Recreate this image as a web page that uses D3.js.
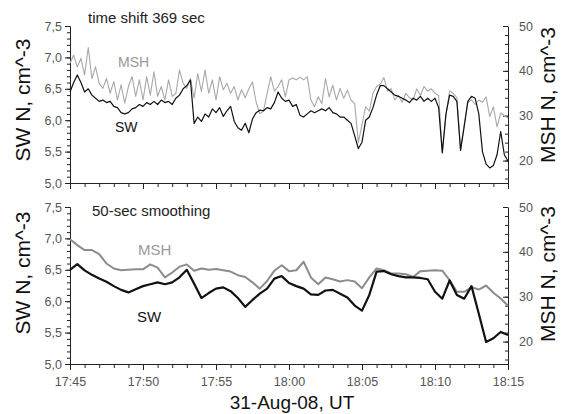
<!DOCTYPE html>
<html>
<head>
<meta charset="utf-8">
<script src="https://cdn.jsdelivr.net/npm/d3@7"></script>
<style>
body { margin:0; background:#fff; }
svg { display:block; font-family: Arial, "Liberation Sans", sans-serif; }
</style>
</head>
<body>
<div class="chart"></div>
<script>
// ---- data ----
const startTime = "2008-08-31T17:45:00Z";
const rawStepSec = 15;
const smoothStepSec = 30;

// top panel: raw data, time shift 369 sec
const swRaw = [
 6.45,6.60,6.72,6.60,6.45,6.50,6.40,6.35,6.30,6.32,6.28,6.30,6.22,6.20,6.12,6.10,
 6.12,6.18,6.20,6.25,6.22,6.28,6.25,6.30,6.25,6.32,6.28,6.30,6.25,6.35,6.40,6.50,
 6.55,6.64,5.95,6.05,5.98,6.10,6.05,6.18,6.12,6.20,6.06,6.15,6.22,5.98,5.88,5.84,
 5.95,5.80,6.02,6.12,6.16,6.15,6.20,6.18,6.28,6.45,6.35,6.30,6.32,6.22,6.25,6.08,
 6.05,6.10,6.15,6.12,6.15,6.18,6.15,6.20,6.12,6.10,6.05,6.05,6.00,5.95,5.75,5.55,
 5.65,6.00,6.05,6.20,6.40,6.55,6.55,6.50,6.45,6.40,6.38,6.35,6.32,6.28,6.35,6.32,
 6.38,6.30,6.35,6.30,6.35,6.20,5.48,6.10,6.40,6.38,6.30,5.52,5.90,6.30,6.38,6.35,
 6.10,5.50,5.30,5.24,5.28,5.45,5.82,5.45,5.35
];
const mshRaw = [
 41.7,43.5,40.9,42.8,39.1,45.2,38.3,40.9,37.2,36.1,38.3,35.0,37.6,33.5,36.9,32.8,
 36.5,38.7,34.3,38.0,33.5,38.7,34.6,39.8,34.3,36.5,33.5,38.0,34.3,35.0,40.2,37.2,
 36.1,38.3,33.9,39.4,35.4,40.2,35.0,38.0,33.5,38.7,35.8,37.2,35.0,36.5,33.5,35.8,
 34.0,36.0,37.5,33.0,30.5,31.0,35.0,38.7,35.5,36.5,38.0,34.2,38.0,38.4,38.0,38.6,
 38.0,38.7,33.5,32.0,34.2,32.7,38.3,34.2,36.8,33.5,36.1,33.9,35.7,33.5,32.7,24.0,
 28.0,32.0,31.0,35.0,36.5,37.0,38.5,35.5,36.0,33.5,34.5,33.0,35.0,34.0,33.5,36.0,
 34.5,36.5,35.5,36.0,35.0,34.5,22.0,30.0,35.5,35.0,34.0,22.5,28.0,33.0,33.5,32.5,
 33.5,33.0,34.2,29.8,32.0,27.5,30.6,30.0,29.5
];

// bottom panel: 50-sec smoothing
const swSmooth = [
 6.50,6.59,6.49,6.42,6.36,6.31,6.24,6.18,6.14,6.19,6.24,6.27,6.30,6.27,6.30,6.38,
 6.50,6.28,6.05,6.13,6.20,6.22,6.16,6.05,5.91,6.02,6.12,6.20,6.36,6.40,6.29,6.24,
 6.20,6.11,6.10,6.17,6.18,6.12,6.06,5.93,5.85,6.10,6.47,6.48,6.43,6.40,6.38,6.38,
 6.37,6.35,6.15,6.04,6.33,6.10,6.04,6.24,5.80,5.35,5.41,5.51,5.46
];
const mshSmooth = [
 42.8,41.5,40.4,40.4,39.5,37.4,36.3,35.9,36.0,36.1,36.1,37.2,36.5,34.3,35.4,36.7,
 37.2,35.8,36.3,36.0,36.2,35.9,35.6,34.8,34.4,33.2,31.8,33.5,35.8,37.0,35.7,35.9,
 37.8,34.3,32.8,34.3,33.9,33.4,33.7,33.4,31.9,34.3,36.3,35.9,35.2,35.2,35.0,34.4,
 35.7,35.8,35.9,35.8,33.7,31.1,31.1,32.1,31.6,32.5,30.9,29.6,28.0
];

const xTickLabels = ["17:45","17:50","17:55","18:00","18:05","18:10","18:15"];
const swTicks = [5.0,5.5,6.0,6.5,7.0,7.5];
const mshTicks = [20,30,40,50];
const panelTitles = ["time shift 369 sec","50-sec smoothing"];

// ---- chart ----
const W = 561, H = 414;
const left = 70, right = 508, panelH = 157;

const svg = d3.select('.chart').append('svg')
  .attr('width',W).attr('height',H);

const t0 = new Date(startTime);
const addSec = s => new Date(t0.getTime() + s*1000);
const xTicks = xTickLabels.map(l => new Date(`2008-08-31T${l}:00Z`));

const x = d3.scaleUtc()
  .domain([xTicks[0], xTicks[xTicks.length-1]])
  .range([left,right]);

const fmtComma = d => d.toFixed(1).replace('.',',');

function drawPanel({top,sw,msh,stepSec,title,showXLabels,swW,mshW,mshColor,annot})
{
  const ySW = d3.scaleLinear().domain([5,7.5]).range([top+panelH,top]);
  const yMSH = d3.scaleLinear().domain([15,50]).range([top+panelH,top]);

  const g = svg.append('g');

  // minor ticks
  g.append('g')
   .attr('transform',`translate(${left},0)`)
   .call(d3.axisLeft(ySW).tickValues(d3.range(5,7.501,0.1)).tickSize(3).tickFormat(''))
   .call(a => a.select('.domain').remove());
  g.append('g')
   .attr('transform',`translate(${right},0)`)
   .call(d3.axisRight(yMSH).tickValues(d3.range(16,50.1,2)).tickSizeInner(-3).tickSizeOuter(0).tickFormat(''))
   .call(a => a.select('.domain').remove());
  g.append('g')
   .attr('transform',`translate(0,${top+panelH})`)
   .call(d3.axisBottom(x).tickValues(d3.range(0,31).map(m => addSec(m*60))).tickSize(4).tickFormat(''))
   .call(a => a.select('.domain').remove());

  // major axes
  g.append('g')
   .attr('class','ax')
   .attr('transform',`translate(${left},0)`)
   .call(d3.axisLeft(ySW).tickValues(swTicks).tickSize(5).tickPadding(3).tickFormat(fmtComma));
  g.append('g')
   .attr('class','ax')
   .attr('transform',`translate(${right},0)`)
   .call(d3.axisRight(yMSH).tickValues(mshTicks).tickSizeInner(-5).tickSizeOuter(0).tickPadding(11));
  g.append('g')
   .attr('class','ax')
   .attr('transform',`translate(0,${top+panelH})`)
   .call(d3.axisBottom(x).tickValues(xTicks).tickSize(6).tickSizeOuter(0).tickPadding(7)
     .tickFormat((d,i) => showXLabels ? xTickLabels[i] : ''));

  g.selectAll('.domain, .tick line').attr('stroke','#222');
  g.selectAll('.ax .tick text').attr('font-size',12.5).attr('fill','#555')
   .attr('font-family','Arial, "Liberation Sans", sans-serif');

  // lines
  const lineMSH = d3.line().x((d,i) => x(addSec(i*stepSec))).y(d => yMSH(d));
  const lineSW = d3.line().x((d,i) => x(addSec(i*stepSec))).y(d => ySW(d));

  g.append('path').datum(msh)
   .attr('d',lineMSH).attr('fill','none')
   .attr('stroke',mshColor).attr('stroke-width',mshW).attr('stroke-linejoin','round');
  g.append('path').datum(sw)
   .attr('d',lineSW).attr('fill','none')
   .attr('stroke','#111').attr('stroke-width',swW).attr('stroke-linejoin','round');

  // texts
  g.append('text').attr('x',annot.titleX).attr('y',annot.titleY)
   .attr('font-size',15).attr('fill','#222').text(title);
  g.append('text').attr('x',annot.mshX).attr('y',annot.mshY)
   .attr('font-size',annot.size).attr('fill','#999').text('MSH');
  g.append('text').attr('x',annot.swX).attr('y',annot.swY)
   .attr('font-size',annot.size).attr('fill','#111').text('SW');

  g.append('text')
   .attr('transform',`translate(30,${annot.leftTitleY}) rotate(-90)`)
   .attr('text-anchor','middle').attr('font-size',21).attr('fill','#111')
   .text('SW N, cm^-3');
  g.append('text')
   .attr('transform',`translate(555,${annot.rightTitleY}) rotate(-90)`)
   .attr('text-anchor','middle').attr('font-size',21).attr('fill','#111')
   .text('MSH N, cm^-3');
}

drawPanel({
  top:26, sw:swRaw, msh:mshRaw, stepSec:rawStepSec, title:panelTitles[0],
  showXLabels:false, swW:1.2, mshW:1.1, mshColor:'#a8a8a8',
  annot:{titleX:88,titleY:23,mshX:118,mshY:67,swX:115,swY:132,size:14,leftTitleY:100,rightTitleY:95}
});
drawPanel({
  top:207, sw:swSmooth, msh:mshSmooth, stepSec:smoothStepSec, title:panelTitles[1],
  showXLabels:true, swW:2.2, mshW:2, mshColor:'#8c8c8c',
  annot:{titleX:92,titleY:216,mshX:138,mshY:255,swX:137,swY:322,size:15,leftTitleY:273,rightTitleY:274}
});

svg.append('text')
  .attr('x',292).attr('y',409)
  .attr('text-anchor','middle').attr('font-size',19).attr('fill','#111')
  .text('31-Aug-08, UT');
</script>
</body>
</html>
